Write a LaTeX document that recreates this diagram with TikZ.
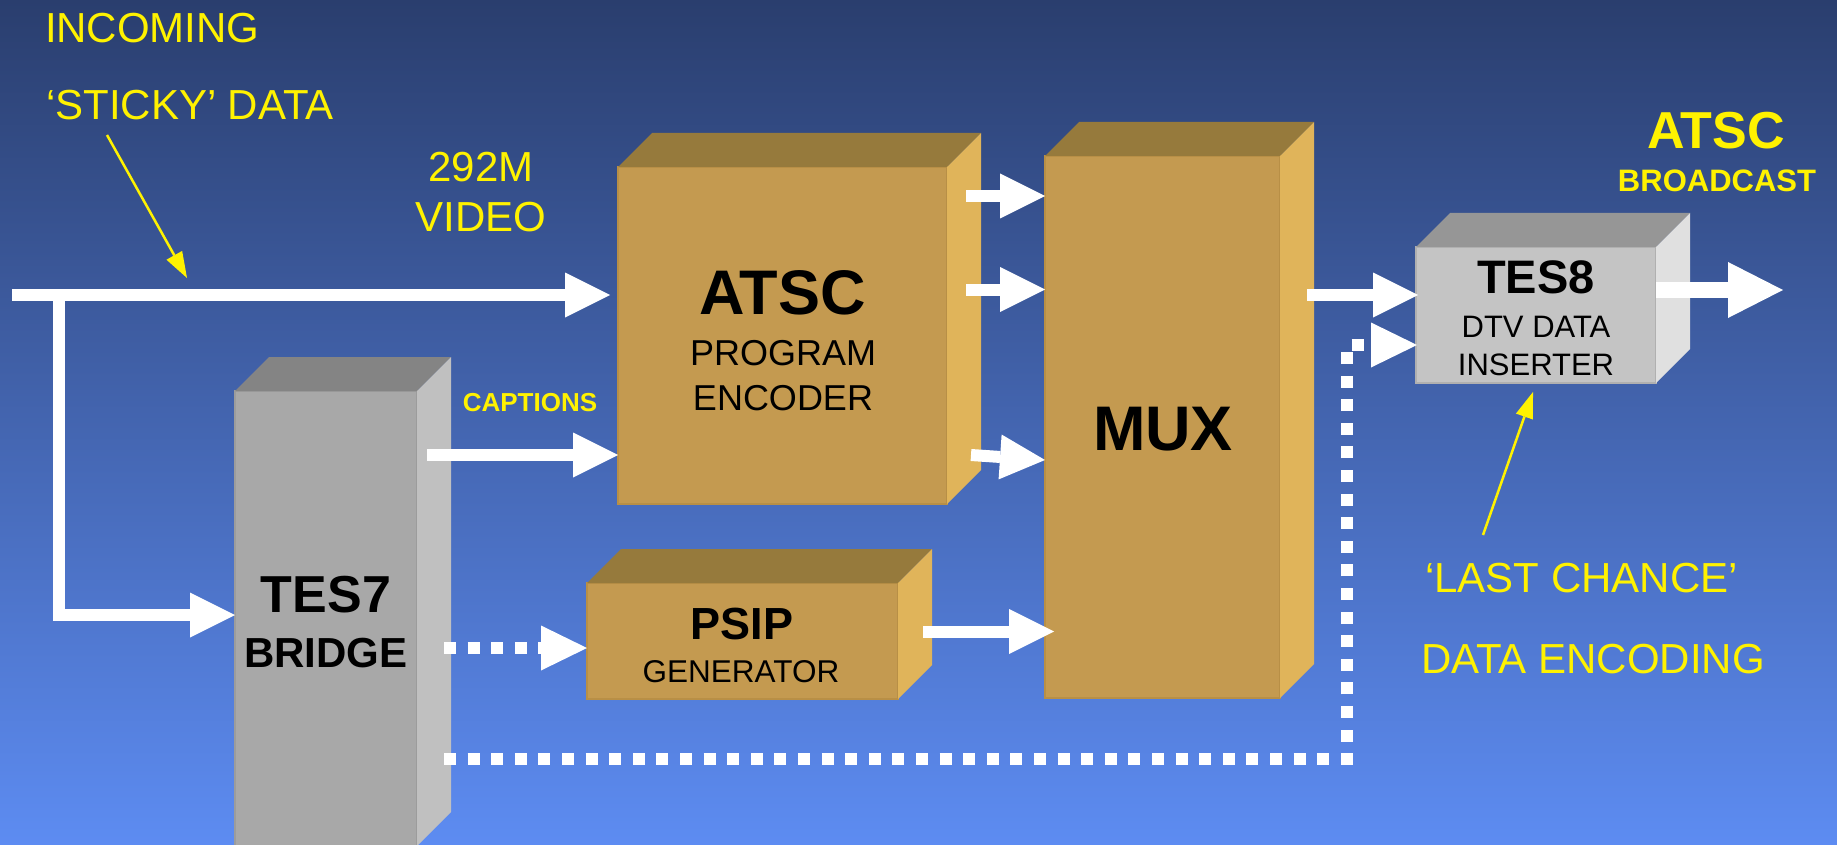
\documentclass[tikz,border=0pt]{standalone}
\usepackage{fontspec}
\setmainfont{Liberation Sans}
\usetikzlibrary{arrows.meta}
\definecolor{bgtop}{RGB}{42,62,110}
\definecolor{bgmid}{RGB}{70,106,190}
\definecolor{bgbot}{RGB}{93,140,242}
\definecolor{tanF}{RGB}{196,154,80}
\definecolor{tanB}{RGB}{184,143,70}
\definecolor{tanT}{RGB}{150,122,60}
\definecolor{tanS}{RGB}{224,180,90}
\definecolor{gryF}{RGB}{168,168,168}
\definecolor{gryB}{RGB}{156,156,156}
\definecolor{gryT}{RGB}{132,132,132}
\definecolor{gryS}{RGB}{192,192,192}
\definecolor{ltgF}{RGB}{196,196,196}
\definecolor{ltgB}{RGB}{176,176,176}
\definecolor{ltgT}{RGB}{150,150,150}
\definecolor{ltgS}{RGB}{224,224,224}
\newcommand\myfs[1]{\fontsize{#1}{#1}\selectfont}
\newcommand\cubefaces[3]{%
  \fill[#2] (#1.north west) -- ([shift={(34,-34)}]#1.north west) -- ([shift={(34,-34)}]#1.north east) -- (#1.north east) -- cycle;
  \fill[#3] (#1.north east) -- ([shift={(34,-34)}]#1.north east) -- ([shift={(34,-34)}]#1.south east) -- (#1.south east) -- cycle;
}
\begin{document}
\begin{tikzpicture}[x=1pt,y=-1pt,
  bigarrow/.style={draw=white, line width=12pt, line join=miter, -{Triangle[length=45pt,width=45pt,line width=0pt]}},
  hugearrow/.style={draw=white, line width=16pt, -{Triangle[length=55pt,width=56pt,line width=0pt]}},
  dotline/.style={draw=white, line width=12pt, dash pattern=on 12pt off 11.6pt},
  yarrow/.style={draw=yellow, line width=2.5pt, -{Triangle[length=26pt,width=18pt,line width=0pt]}},
  lbl/.style={text=yellow, inner sep=0pt, outer sep=0pt},
  boxtxt/.style={text=black, inner sep=0pt, outer sep=0pt, anchor=base},
  tanbox/.style={fill=tanF, draw=tanB, line width=1.5pt, inner sep=0pt, outer sep=0pt},
  grybox/.style={fill=gryF, draw=gryB, line width=1.5pt, inner sep=0pt, outer sep=0pt},
  ltgbox/.style={fill=ltgF, draw=ltgB, line width=1.5pt, inner sep=0pt, outer sep=0pt}
]
\useasboundingbox (0,0) rectangle (1837,845);
\fill[top color=bgtop, middle color=bgmid, bottom color=bgbot] (0,0) rectangle (1837,845);

% boxes
\node[tanbox, minimum width=329pt, minimum height=337pt] (atsc) at (782.5,335.5) {};
\cubefaces{atsc}{tanT}{tanS}
\node[tanbox, minimum width=235pt, minimum height=542pt] (mux) at (1162.5,427) {};
\cubefaces{mux}{tanT}{tanS}
\node[tanbox, minimum width=311pt, minimum height=116pt] (psip) at (742.5,641) {};
\cubefaces{psip}{tanT}{tanS}
\node[grybox, minimum width=182pt, minimum height=455pt] (tes7) at (326,618.5) {};
\cubefaces{tes7}{gryT}{gryS}
\node[ltgbox, minimum width=240pt, minimum height=136pt] (tes8) at (1536,315) {};
\cubefaces{tes8}{ltgT}{ltgS}

% box texts
\node[boxtxt, font=\bfseries\myfs{63}] (atscT) at (782.5,314) {ATSC};
\node[boxtxt, font=\myfs{36}] (atscP) at (783,365) {PROGRAM};
\node[boxtxt, font=\myfs{36}] (atscE) at (783,410) {ENCODER};
\node[boxtxt, font=\bfseries\myfs{63}] (muxT) at (1163,450) {MUX};
\node[boxtxt, font=\bfseries\myfs{45}] (psipT) at (742,639) {PSIP};
\node[boxtxt, font=\myfs{31.5}] (psipG) at (741,682) {GENERATOR};
\node[boxtxt, font=\bfseries\myfs{52}] (tes7T) at (326,612) {TES7};
\node[boxtxt, font=\bfseries\myfs{42}] (tes7B) at (326,667) {BRIDGE};
\node[boxtxt, font=\bfseries\myfs{47}] (tes8T) at (1536,293) {TES8};
\node[boxtxt, font=\myfs{31}] (tes8D) at (1536,337) {DTV DATA};
\node[boxtxt, font=\myfs{31}] (tes8I) at (1536,375) {INSERTER};

% labels
\node[lbl, anchor=base west, font=\myfs{42}] (incoming) at (45,43) {INCOMING};
\node[lbl, anchor=base west, font=\myfs{42}] (sticky) at (46,120) {‘STICKY’ DATA};
\node[lbl, anchor=base, font=\myfs{42}] (m292) at (481,182) {292M};
\node[lbl, anchor=base, font=\myfs{42}] (video) at (481,232) {VIDEO};
\node[lbl, anchor=base, font=\bfseries\myfs{26}] (captions) at (530,411) {CAPTIONS};
\node[lbl, anchor=base, font=\bfseries\myfs{52}] (atscB) at (1716,149) {ATSC};
\node[lbl, anchor=base, font=\bfseries\myfs{31}] (bcast) at (1717,192) {BROADCAST};
\node[lbl, anchor=base west, font=\myfs{42}] (lastch) at (1425,592) {‘LAST CHANCE’};
\node[lbl, anchor=base west, font=\myfs{42}] (dataenc) at (1421,673) {DATA ENCODING};

% connector end points
\coordinate (src) at (12,295);
\coordinate (brtop) at (59,295);
\coordinate (t7in) at ([yshift=3.5pt]tes7.west);
\coordinate (capstart) at (427,455);
\coordinate (dot1start) at (444,648);
\coordinate (dot2start) at (444,759);
\coordinate (dotcorner) at (1347,345);
\coordinate (a1) at (966,196);
\coordinate (a2) at (966,289.5);
\coordinate (a3) at (971,455);
\coordinate (a3end) at (1045,460);
\coordinate (psipout) at (923,631.5);
\coordinate (psipend) at (1054,631.5);
\coordinate (muxout) at (1307,295);
\coordinate (t8out) at ([yshift=25pt]tes8.east);
\coordinate (bcastpt) at (1783,290);
\coordinate (stkA) at (107,135);
\coordinate (stkB) at (187,278);
\coordinate (lcA) at (1483,535);
\coordinate (lcB) at (1533,392);

% connectors
\draw[bigarrow] (src) -- ([xshift=-8pt]atsc.west |- src);
\draw[bigarrow] (brtop) |- (t7in);
\draw[bigarrow] (capstart) -- (atsc.west |- capstart);
\draw[dotline, -{Triangle[length=46pt,width=45pt,line width=0pt]}] (dot1start) -- (psip.west |- dot1start);
\draw[bigarrow] (a1) -- (mux.west |- a1);
\draw[bigarrow] (a2) -- (mux.west |- a2);
\draw[bigarrow] (a3) -- (a3end);
\draw[bigarrow] (psipout) -- (psipend);
\draw[bigarrow] (muxout) -- ([xshift=2pt]tes8.west |- muxout);
\draw[dotline, -{Triangle[length=46pt,width=45pt,line width=0pt]}] (dot2start) -| (dotcorner) -- ([xshift=1pt]tes8.west |- dotcorner);
\draw[hugearrow] (t8out) -- (bcastpt);
\draw[yarrow] (stkA) -- (stkB);
\draw[yarrow] (lcA) -- (lcB);
\end{tikzpicture}
\end{document}
